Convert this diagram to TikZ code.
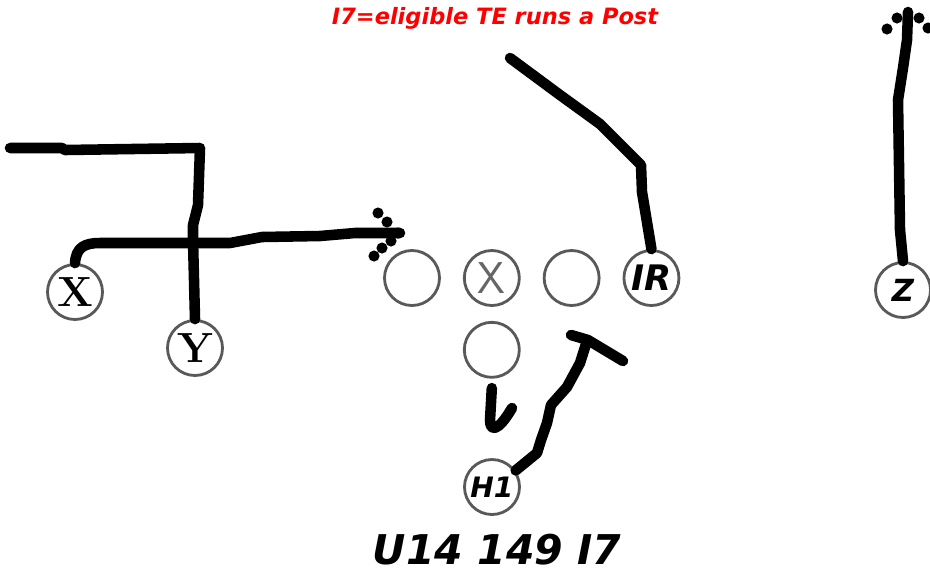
\documentclass[tikz,border=0pt]{standalone}
\usepackage{fontspec}
\newfontfamily\playfont{DejaVu Sans}
\usetikzlibrary{positioning}

\begin{document}
\begin{tikzpicture}[x=0.03cm, y=-0.03cm]
    % Define styles
    \tikzstyle{player} = [circle, minimum size=1.65cm, inner sep=0pt, draw=black!65, line width=2.4pt, fill=white]
    \tikzstyle{route} = [line width=9pt, line cap=round, line join=round]
    \tikzstyle{tipdot} = [circle, fill=black, inner sep=0pt, minimum size=9.5pt]
    \tikzstyle{sans} = [font=\playfont\bfseries\itshape\fontsize{26}{26}\selectfont]
    \tikzstyle{serif} = [font=\bfseries\fontsize{36}{36}\selectfont]

    \useasboundingbox (0,0) rectangle (930,575);

    % Titles
    \node (title) at (495,18) [text=red, font=\playfont\bfseries\itshape\fontsize{19.2}{20}\selectfont] {I7=eligible TE runs a Post};
    \node (playname) at (497,564) [anchor=base, inner sep=0pt, font=\playfont\bfseries\itshape\fontsize{35}{36}\selectfont] {U14 149 I7};

    % Players
    \node (X) at (75,292) [player, serif] {X};
    \node (Y) at (195,348) [player, serif] {Y};
    \node (LT) at (412,278) [player] {};
    \node (CX) [player, right=0.66cm of LT, text=black!60, font=\sffamily\fontsize{38}{38}\selectfont] {X};
    \node (RG) [player, right=0.66cm of CX] {};
    \node (IR) [player, right=0.66cm of RG, font=\playfont\bfseries\itshape\fontsize{30}{30}\selectfont] {IR};
    \node (QB) [player, below=0.42cm of CX] {};
    \node (H1) at (492,487) [player, font=\playfont\bfseries\itshape\fontsize{24}{24}\selectfont] {H1};
    \node (Z) at (903,290) [player, sans] {Z};

    % Route ends
    \coordinate (xend) at (400,233);
    \coordinate (yend) at (10,148);
    \coordinate (irend) at (510,58);
    \coordinate (zend) at (908,12);
    \coordinate (qbend) at (512,408);
    \coordinate (h1end) at (586,344);

    % Routes
    \draw [route] (X.north) .. controls (76,247) and (85,243) .. (100,243) -- (230,243) -- (262,237) -- (320,236) -- (355,233) -- (xend);
    \draw [route] (Y.north) -- (193,240) -- (193,225) -- (198,205) -- (200,148) -- (65,150) -- (62,148) -- (yend);
    \draw [route] (IR.north) -- (642,192) -- (641,165) -- (622,146) -- (600,124) -- (560,95) -- (irend);
    \draw [route] (Z.north) -- (900,230) -- (898,100) -- (903,68) -- (907,40) -- (zend);
    \draw [route] ([yshift=-8pt]QB.south) -- (490,420) .. controls (490,432) and (498,432) .. (qbend);
    \draw [route] (H1.35) -- (537,453) -- (541,440) -- (547,423) -- (551,405) -- (567,387) -- (580,363) -- (h1end);
    \draw [route] (571,335) -- (588,340) -- (623,361);

    % Arrow dots
    \foreach \p in {(378,213),(387,222),(398,233),(391,241),(382,248),(374,256)}
        \node [tipdot] at \p {};
    \foreach \p in {(887,29),(897,18),(919,18),(928,28)}
        \node [tipdot] at \p {};
\end{tikzpicture}
\end{document}
